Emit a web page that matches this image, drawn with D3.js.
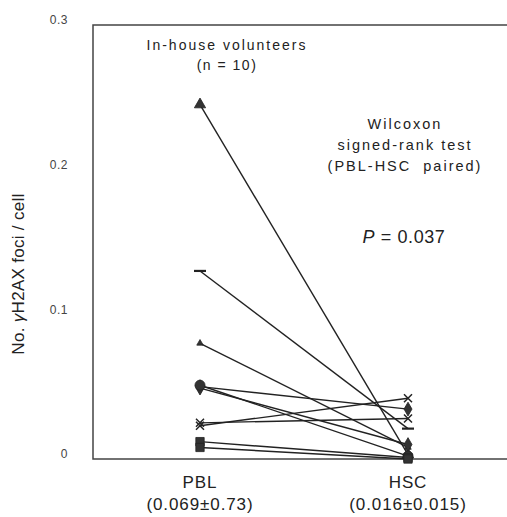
<!DOCTYPE html>
<html>
<head>
<meta charset="utf-8">
<script src="https://cdn.jsdelivr.net/npm/d3@7"></script>
<style>
  body { margin: 0; background: #fff; }
  svg { font-family: "Liberation Sans", Arial, sans-serif; }
</style>
</head>
<body>
<svg id="chart" width="507" height="517"></svg>
<script>
// paired values, one entry per volunteer
const categories = ["PBL", "HSC"];
const categoryNotes = ["(0.069\u00b10.73)", "(0.016\u00b10.015)"];
const pblValues = [0.245, 0.130, 0.080, 0.050, 0.049, 0.051, 0.023, 0.025, 0.012, 0.008];
const hscValues = [0.003, 0.021, 0.008, 0.0345, 0.010, 0.002, 0.042, 0.028, 0.001, 0.000];
const markers = ["triangle", "dash", "arrow", "diamond", "diamond", "circle", "x", "x", "square", "square"];
const yTicks = [0, 0.1, 0.2, 0.3];

const svg = d3.select("#chart");

const plotLeft = 93, plotTop = 25, plotBottom = 459, plotRight = 507;

const x = d3.scalePoint().domain(categories).range([200, 408]);
const y = d3.scaleLinear().domain([0, 0.3]).range([plotBottom, plotTop]);

const ink = "#222";

// frame: left, top and bottom lines only
svg.append("path")
  .attr("d", `M${plotRight},${plotTop}H${plotLeft}V${plotBottom}H${plotRight}`)
  .attr("fill", "none")
  .attr("stroke", "#444")
  .attr("stroke-width", 1.5);

// y tick labels (no tick marks in the original)
svg.append("g").selectAll("text")
  .data(yTicks).enter()
  .append("text")
  .attr("x", 68)
  .attr("y", d => y(d) - 5)
  .attr("dy", "0.35em")
  .attr("text-anchor", "end")
  .attr("font-size", 12)
  .attr("letter-spacing", 0.5)
  .attr("fill", "#444")
  .text(d => d === 0 ? "0" : d3.format(".1f")(d));

// y axis title
const yt = svg.append("text")
  .attr("transform", "translate(24,274) rotate(-90)")
  .attr("text-anchor", "middle")
  .attr("font-size", 17)
  .attr("letter-spacing", 0.3)
  .attr("fill", ink);
yt.append("tspan").text("No. ");
yt.append("tspan").attr("font-style", "italic").text("\u03b3");
yt.append("tspan").text("H2AX foci / cell");

// category labels under the axis
const xl = svg.append("g").selectAll("g")
  .data(categories).enter()
  .append("g")
  .attr("fill", ink)
  .attr("font-size", 17)
  .attr("letter-spacing", 0.9)
  .attr("text-anchor", "middle");
xl.append("text")
  .attr("x", d => x(d))
  .attr("y", 488)
  .text(d => d);
xl.append("text")
  .attr("x", d => x(d))
  .attr("y", 510)
  .text((d, i) => categoryNotes[i]);

// paired lines
const pairs = pblValues.map((v, i) => ({pbl: v, hsc: hscValues[i], marker: markers[i]}));

svg.append("g").selectAll("line")
  .data(pairs).enter()
  .append("line")
  .attr("x1", x("PBL"))
  .attr("y1", d => y(d.pbl))
  .attr("x2", x("HSC"))
  .attr("y2", d => y(d.hsc))
  .attr("stroke", ink)
  .attr("stroke-width", 1.4);

function markerPath(type) {
  switch (type) {
    case "triangle": return d3.symbol(d3.symbolTriangle, 55)();
    case "arrow": return d3.symbol(d3.symbolTriangle, 18)();
    case "circle": return d3.symbol(d3.symbolCircle, 80)();
    case "diamond": return d3.symbol(d3.symbolDiamond, 55)();
    case "square": return d3.symbol(d3.symbolSquare, 70)();
    default: return null;
  }
}

function drawMarker(g, type, cx, cy) {
  if (type === "dash") {
    g.append("line")
      .attr("x1", cx - 6).attr("x2", cx + 6)
      .attr("y1", cy).attr("y2", cy)
      .attr("stroke", ink).attr("stroke-width", 2.2);
  } else if (type === "x") {
    g.append("path")
      .attr("d", `M${cx - 4},${cy - 4}L${cx + 4},${cy + 4}M${cx - 4},${cy + 4}L${cx + 4},${cy - 4}`)
      .attr("stroke", ink).attr("stroke-width", 1.5);
  } else {
    g.append("path")
      .attr("d", markerPath(type))
      .attr("transform", `translate(${cx},${cy})`)
      .attr("fill", "#333")
      .attr("stroke", ink)
      .attr("stroke-width", 0.8);
  }
}

const mg = svg.append("g");
pairs.forEach(d => {
  drawMarker(mg, d.marker, x("PBL"), y(d.pbl));
  drawMarker(mg, d.marker, x("HSC"), y(d.hsc));
});

// annotations
const notes = svg.append("g").attr("fill", ink).attr("text-anchor", "middle");
notes.append("text").attr("x", 227).attr("y", 50).attr("font-size", 14)
  .attr("letter-spacing", 2).text("In-house volunteers");
notes.append("text").attr("x", 227).attr("y", 70).attr("font-size", 14)
  .attr("letter-spacing", 1.5).style("white-space", "pre").text("(n = 10)");
const stat = notes.append("g").attr("font-size", 14.5).attr("letter-spacing", 2);
stat.append("text").attr("x", 405).attr("y", 129).text("Wilcoxon");
stat.append("text").attr("x", 405).attr("y", 150).text("signed-rank test");
stat.append("text").attr("x", 405).attr("y", 171)
  .style("white-space", "pre").text("(PBL-HSC  paired)");
const p = notes.append("text").attr("x", 404).attr("y", 243)
  .attr("font-size", 18).attr("letter-spacing", 0.6);
p.append("tspan").attr("font-style", "italic").text("P");
p.append("tspan").text(" = 0.037");
</script>
</body>
</html>
